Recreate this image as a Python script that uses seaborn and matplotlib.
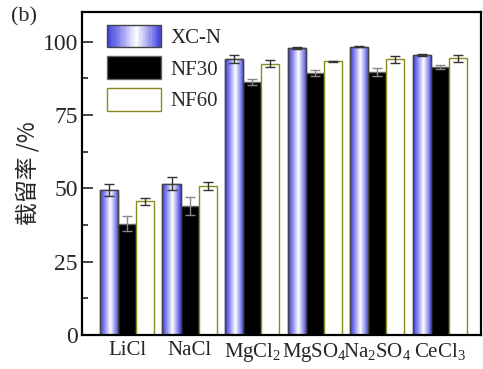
import numpy as np
import pandas as pd
import matplotlib
matplotlib.use("Agg")
import matplotlib.pyplot as plt
import seaborn as sns
from matplotlib.patches import Rectangle
from matplotlib.legend_handler import HandlerBase
from matplotlib.colors import LinearSegmentedColormap

categories = ["LiCl", "NaCl", "MgCl$_2$", "MgSO$_4$", "Na$_2$SO$_4$", "CeCl$_3$"]
series = ["XC-N", "NF30", "NF60"]
xcn = [49.5, 51.5, 94.0, 97.8, 98.3, 95.5]
nf30 = [38.0, 44.0, 86.3, 89.2, 89.5, 91.3]
nf60 = [45.5, 50.8, 92.5, 93.2, 94.0, 94.3]
xcn_err = [2.0, 2.2, 1.3, 0.3, 0.3, 0.3]
nf30_err = [2.5, 3.0, 1.0, 1.0, 1.4, 0.8]
nf60_err = [1.2, 1.5, 1.2, 0.3, 1.2, 1.2]
yticks = [0, 25, 50, 75, 100]

sns.set_theme(style="ticks")
plt.rcParams["font.family"] = ["Liberation Serif", "DejaVu Serif"]
plt.rcParams["mathtext.fontset"] = "custom"
plt.rcParams["mathtext.rm"] = "Liberation Serif"
plt.rcParams["mathtext.it"] = "Liberation Serif"

df = pd.DataFrame({
    "cat": np.repeat(categories, 3),
    "series": series * len(categories),
    "val": np.ravel(np.column_stack([xcn, nf30, nf60])),
})
errs = [xcn_err, nf30_err, nf60_err]

fig = plt.figure(figsize=(4.83, 3.69), dpi=100)
ax = fig.add_axes([0.170, 0.092, 0.826, 0.875])

palette = {"XC-N": "#7070e8", "NF30": "black", "NF60": "white"}
sns.barplot(data=df, x="cat", y="val", hue="series", order=categories,
            hue_order=series, palette=palette, errorbar=None, width=0.87,
            ax=ax, legend=False, saturation=1)

edgecols = ["#444444", "#666666", "#8a8a20"]
cmap = LinearSegmentedColormap.from_list(
    "g", [(0.0, "#3c3cd8"), (0.25, "#8c8cf0"), (0.55, "#ffffff"),
          (0.8, "#9898f0"), (1.0, "#4040d8")])
grad = np.linspace(0, 1, 64).reshape(1, -1)

bar_conts = list(ax.containers)
for i, cont in enumerate(bar_conts):
    for j, bar in enumerate(cont):
        bar.set_edgecolor(edgecols[i])
        bar.set_linewidth(1.0)
        x0 = bar.get_x()
        w = bar.get_width()
        h = bar.get_height()
        if i == 0:
            im = ax.imshow(grad, cmap=cmap, aspect="auto",
                           extent=[x0, x0 + w, 0, h], zorder=bar.get_zorder() + 0.1)
            im.set_clip_path(bar)
            r = Rectangle((x0, 0), w, h, fill=False, edgecolor=edgecols[0],
                          linewidth=1.0, zorder=bar.get_zorder() + 0.2)
            ax.add_patch(r)
        ecol = "#888888" if i == 1 else "#333333"
        ax.errorbar(x0 + w / 2, h, yerr=errs[i][j], color=ecol,
                    capsize=3.5, elinewidth=1.0, capthick=1.0, zorder=5)

ax.set_xlim(-0.72, 5.66)
ax.set_ylim(0, 110)
ax.set_yticks(yticks)
ax.set_yticks(np.arange(12.5, 110, 25), minor=True)
ax.tick_params(axis="y", which="major", direction="in", length=8, width=1.2,
               labelsize=17, pad=3)
ax.tick_params(axis="y", which="minor", direction="in", length=4, width=1.2)
ax.tick_params(axis="x", which="both", length=0, labelsize=15, pad=4)
for s in ax.spines.values():
    s.set_linewidth(1.6)
    s.set_color("black")
ax.set_xlabel("")
ax.set_ylabel("截留率 /%", family=["Noto Sans CJK SC", "DejaVu Sans"],
              fontsize=16.5, labelpad=2)


class GradHandler(HandlerBase):
    def create_artists(self, legend, orig_handle, xdescent, ydescent,
                       width, height, fontsize, trans):
        arts = []
        n = 24
        for k in range(n):
            c = cmap((k + 0.5) / n)
            arts.append(Rectangle((-xdescent + width * k / n, -ydescent),
                                  width / n + 0.3, height, facecolor=c,
                                  edgecolor="none", transform=trans))
        arts.append(Rectangle((-xdescent, -ydescent), width, height,
                              fill=False, edgecolor=edgecols[0], lw=1.0,
                              transform=trans))
        return arts


h_xcn = Rectangle((0, 0), 1, 1, label="XC-N")
h_nf30 = Rectangle((0, 0), 1, 1, facecolor="black", edgecolor=edgecols[1], label="NF30")
h_nf60 = Rectangle((0, 0), 1, 1, facecolor="white", edgecolor=edgecols[2], label="NF60")
ax.legend(handles=[h_xcn, h_nf30, h_nf60], labels=series,
          handler_map={h_xcn: GradHandler()}, loc="upper left",
          frameon=False, fontsize=15, handlelength=2.6, handleheight=1.3,
          handletextpad=0.45, labelspacing=0.4, borderaxespad=0.2,
          bbox_to_anchor=(0.03, 1.0))

fig.text(0.022, 0.955, "(b)", fontsize=16, ha="left", va="center")

fig.savefig("out.png", dpi=100)
